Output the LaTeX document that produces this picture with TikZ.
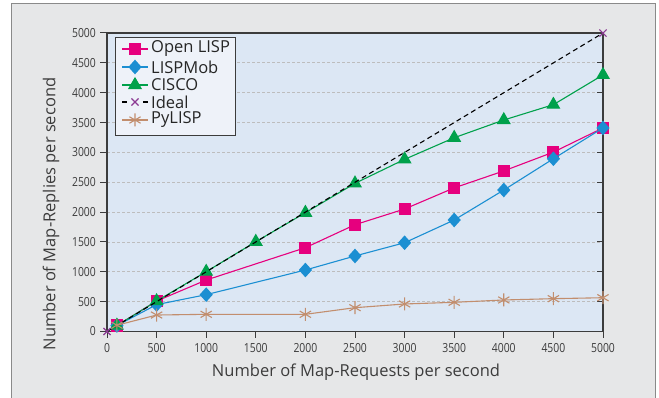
\documentclass[tikz,border=0pt]{standalone}
\usepackage{fontspec}
\setmainfont{Open Sans}
\usetikzlibrary{plotmarks}
\definecolor{pinkc}{HTML}{E6007E}
\definecolor{bluec}{HTML}{1B8FD2}
\definecolor{greenc}{HTML}{00A14B}
\definecolor{tanc}{HTML}{C28E6E}
\definecolor{purplec}{HTML}{8B3A93}
\definecolor{plotbg}{HTML}{DCE7F4}
\definecolor{outerbg}{HTML}{E6E7E8}
\definecolor{legendbg}{HTML}{EEF2F9}
\definecolor{gridcol}{HTML}{BDBDBD}
\definecolor{axiscol}{HTML}{3C3C3C}
\definecolor{framecol}{HTML}{8A8A8A}
\tikzset{
  ticklab/.style={font=\fontsize{12.5}{12.5}\selectfont, xscale=0.83, text=axiscol, inner sep=0pt},
  axlab/.style={font=\fontsize{16.5}{16.5}\selectfont, text=axiscol, inner sep=0pt},
  leglab/.style={font=\fontsize{16.5}{16.5}\selectfont, text=black!85, anchor=west, inner sep=0pt},
  serpink/.style={pinkc, line width=1.1pt, mark=square*, mark size=5.5pt, mark options={solid, fill=pinkc}},
  serblue/.style={bluec, line width=1.1pt, mark=diamond*, mark size=6.5pt, mark options={solid, fill=bluec, xscale=1.2}},
  sergreen/.style={greenc, line width=1.1pt, mark=triangle*, mark size=7pt, mark options={solid, fill=greenc}},
  serideal/.style={black, line width=1.1pt, dash pattern=on 5pt off 3.5pt},
  idealmark/.style={purplec, line width=1.1pt, mark=x, mark size=5pt, mark options={solid}},
  sertan/.style={tanc, line width=1.1pt, mark=asterisk, mark size=6.5pt, mark options={solid}},
}
\begin{document}
\begin{tikzpicture}[x=1pt,y=1pt]
\useasboundingbox (0,0) rectangle (659,397);
\fill[white] (0,0) rectangle (659,397);
\draw[framecol, fill=outerbg, line width=1pt] (11,-10) -- (11,393) -- (655,393) -- (655,-10);
% plot area
\fill[plotbg] (107,65.5) rectangle (603,364);
\foreach \k in {1,...,9} {
  \draw[gridcol, line width=0.8pt, dash pattern=on 2.5pt off 2.5pt] (107,65.5+\k*29.85) -- (603,65.5+\k*29.85);
}
% ticks and labels
\foreach \k [evaluate=\k as \v using int(\k*500)] in {0,...,10} {
  \draw[axiscol, line width=1pt] (100,65.5+\k*29.85) -- (107,65.5+\k*29.85);
  \node[ticklab, anchor=east] (yl\k) at (96,65.5+\k*29.85) {\v};
  \draw[axiscol, line width=1pt] (107+\k*49.6,65.5) -- (107+\k*49.6,59);
  \node[ticklab] (xl\k) at (107+\k*49.6,49) {\v};
}
\foreach \k in {1,...,9} {
  \draw[axiscol, line width=1pt] (603,65.5+\k*29.85) -- (597,65.5+\k*29.85);
}
\draw[axiscol, line width=1.4pt] (107,65.5) rectangle (603,364);
% axis labels
\node[axlab] (xlab) at (356,25) {Number of Map-Requests per second};
\node[axlab, rotate=90] (ylab) at (51,183) {Number of Map-Replies per second};
% data
\begin{scope}[shift={(107pt,65.5pt)}, x=0.0992pt, y=0.0597pt]
\draw[serpink] plot coordinates {(100,100) (500,510) (1000,862) (2000,1404) (2500,1789) (3000,2052) (3500,2406) (4000,2690) (4500,3005) (5000,3410)};
\draw[serblue] plot coordinates {(100,100) (500,450) (1000,617) (2000,1030) (2500,1265) (3000,1487) (3500,1868) (4000,2370) (4500,2894) (5000,3410)};
\draw[sergreen] plot coordinates {(100,100) (500,510) (1000,1002) (1500,1504) (2000,1990) (2500,2482) (3000,2884) (3500,3246) (4000,3543) (4500,3800) (5000,4298)};
\draw[serideal] (0,0) -- (5000,5000);
\draw[idealmark] plot[only marks] coordinates {(0,0) (5000,5000)};
\draw[sertan] plot coordinates {(100,105) (500,276) (1000,288) (2000,288) (2500,399) (3000,461) (3500,489) (4000,528) (4500,550) (5000,566)};
\end{scope}
% legend
\draw[axiscol, line width=1pt, fill=legendbg] (115,359) rectangle (235,261);
\draw[serpink, mark=none] (122,348) -- (148,348);
\draw[serpink] plot[only marks] coordinates {(135,348)};
\node[leglab] (l1) at (151,348) {Open LISP};
\draw[serblue, mark=none] (122,330) -- (148,330);
\draw[serblue] plot[only marks] coordinates {(135,330)};
\node[leglab] (l2) at (151,330) {LISPMob};
\draw[sergreen, mark=none] (122,312) -- (148,312);
\draw[sergreen] plot[only marks] coordinates {(135,312)};
\node[leglab] (l3) at (151,312) {CISCO};
\draw[black, line width=1.1pt] (122,295) -- (127,295) (143,295) -- (148,295);
\draw[idealmark] plot[only marks] coordinates {(135,295)};
\node[leglab] (l4) at (151,295) {Ideal};
\draw[tanc, line width=1.1pt] (122,277) -- (148,277);
\draw[sertan] plot[only marks] coordinates {(135,277)};
\node[leglab] (l5) at (151,277) {PyLISP};
\end{tikzpicture}
\end{document}
